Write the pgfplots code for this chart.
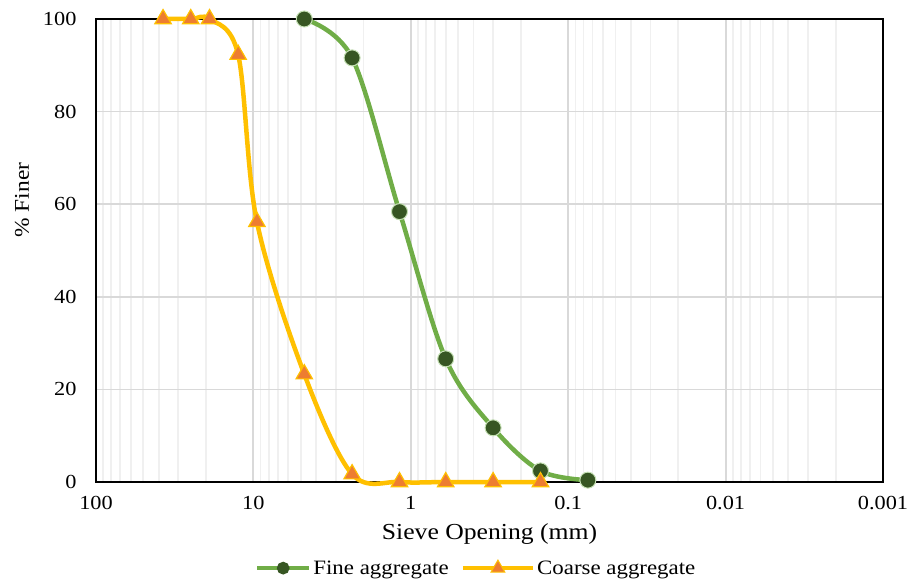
\documentclass[border=0pt]{standalone}
\usepackage{fontspec}
\setmainfont{Liberation Serif}[FakeStretch=1.12]
\usepackage{pgfplots}
\pgfplotsset{compat=1.18}
\definecolor{fineline}{HTML}{70AD47}
\definecolor{finemark}{HTML}{375623}
\definecolor{fineedge}{HTML}{C5E0B4}
\definecolor{coarseline}{HTML}{FFC000}
\definecolor{coarsemark}{HTML}{ED7D31}
\definecolor{majgrid}{HTML}{D9D9D9}
\definecolor{mingrid}{HTML}{F0F0F0}
\begin{document}
\begin{tikzpicture}
\useasboundingbox (-96bp,-98bp) rectangle (811bp,482bp);
\begin{axis}[
  at={(0,0)}, anchor=south west,
  scale only axis, width=787bp, height=463bp,
  xmode=log, x dir=reverse,
  xmin=0.001, xmax=100, ymin=0, ymax=100,
  xtick={100,10,1,0.1,0.01,0.001},
  xticklabels={100,10,1,0.1,0.01,0.001},
  ytick={0,20,40,60,80,100},
  minor xtick={20,30,40,50,60,70,80,90,2,3,4,5,6,7,8,9,0.2,0.3,0.4,0.5,0.6,0.7,0.8,0.9,0.02,0.03,0.04,0.05,0.06,0.07,0.08,0.09,0.002,0.003,0.004,0.005,0.006,0.007,0.008,0.009},
  major tick length=0, minor tick length=0,
  xmajorgrids, xminorgrids, ymajorgrids,
  major grid style={majgrid, line width=1.8bp},
  minor x grid style={mingrid, line width=1.8bp},
  axis line style={black, line width=2.5bp},
  tick label style={font=\fontsize{20}{24}\selectfont},
  /pgf/number format/assume math mode=true,
  xticklabel style={yshift=-11bp},
  yticklabel style={xshift=-16bp},
  xlabel={Sieve Opening (mm)},
  ylabel={\% Finer},
  xlabel style={font=\fontsize{23}{27}\selectfont, at={(axis description cs:0.5,-0.112)}, anchor=center},
  ylabel style={font=\fontsize{21}{26}\selectfont, at={(axis description cs:-0.094,0.609)}, anchor=center},
  clip=false,
  legend columns=2,
  legend style={draw=none, fill=none, at={(axis description cs:0.483,-0.186)}, anchor=center,
    font=\fontsize{20.5}{24}\selectfont, /tikz/every even column/.append style={column sep=10bp}},
  legend cell align=left,
]
\addplot[fineline, line width=4.5bp, smooth, tension=0.55,
  mark=*, mark size=8bp, mark options={fill=finemark, draw=fineedge, line width=1bp},
  legend image code/.code={\draw[fineline, line width=4.5bp] (0bp,0bp) -- (52bp,0bp);
    \fill[finemark] (26bp,0bp) circle (4bp);}]
  coordinates {(4.75,100) (2.36,91.6) (1.18,58.4) (0.6,26.6) (0.3,11.7) (0.15,2.4) (0.075,0.4)};
\addlegendentry{Fine aggregate}
\addplot[coarseline, line width=4.5bp, smooth, tension=0.55,
  mark=triangle*, mark size=9.5bp, mark options={fill=coarsemark, draw=coarseline, line width=1.2bp},
  legend image code/.code={\draw[coarseline, line width=4.5bp] (0bp,0bp) -- (70bp,0bp);
    \draw[fill=coarsemark, draw=coarseline, line width=1bp] (35bp,0bp) +(90:8bp) -- +(210:8bp) -- +(330:8bp) -- cycle;}]
  coordinates {(37.5,100) (25,100) (19,100) (12.5,92.3) (9.5,56.2) (4.75,23.3) (2.36,1.7) (1.18,0) (0.6,0) (0.3,0) (0.15,0)};
\addlegendentry{Coarse aggregate}
\end{axis}
\end{tikzpicture}
\end{document}
